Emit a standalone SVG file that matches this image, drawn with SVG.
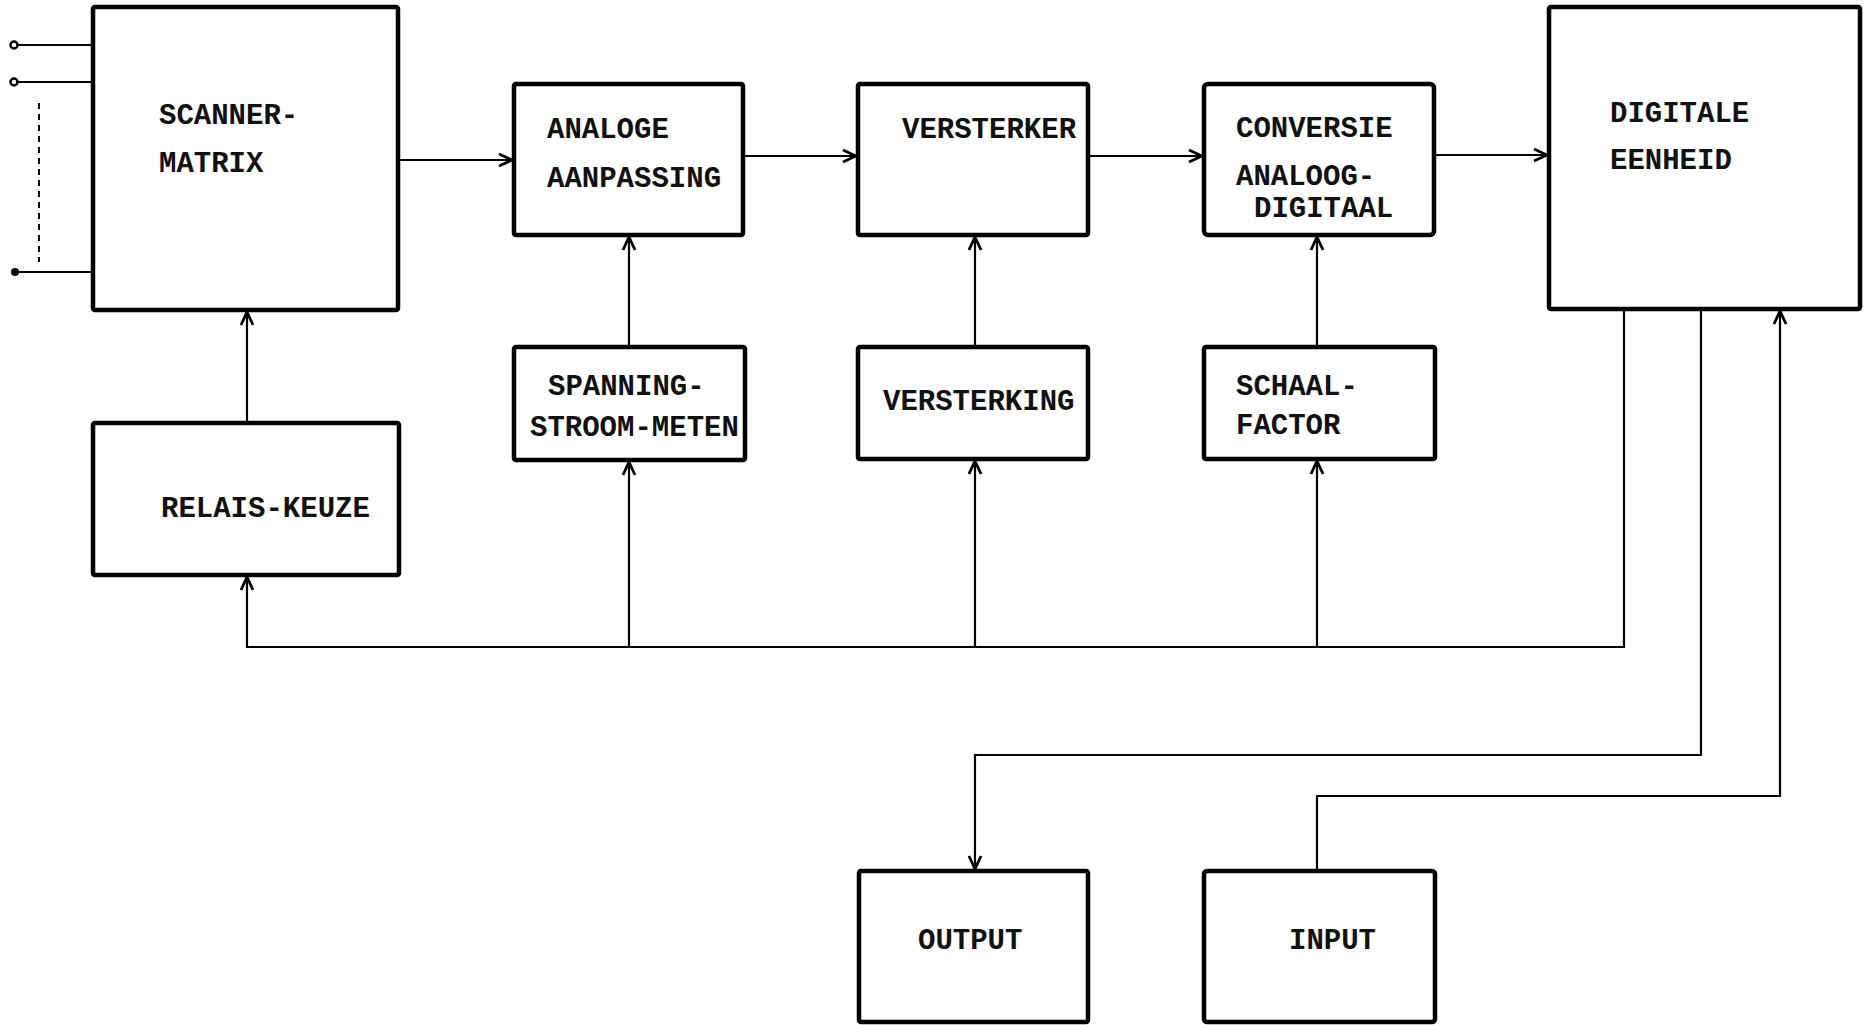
<svg xmlns="http://www.w3.org/2000/svg" width="1869" height="1025" viewBox="0 0 1869 1025">
<style>
.box{fill:#fff;stroke:#000;stroke-width:4.5}
.t{font-family:"Liberation Mono","Courier New",monospace;font-weight:bold;font-size:29px;fill:#111}
.c{fill:none;stroke:#000;stroke-width:2.2}
</style>
<defs>
<marker id="arr" viewBox="0 0 16 16" refX="15" refY="8" markerWidth="16" markerHeight="16" orient="auto" markerUnits="userSpaceOnUse">
<path d="M2,2 L15,8 L2,14" fill="none" stroke="#000" stroke-width="2.8"/>
</marker>
</defs>
<rect width="1869" height="1025" fill="#fff"/>
<g id="connectors">
<path class="c" d="M14,45 H93"/>
<path class="c" d="M14,82 H93"/>
<path class="c" d="M14,272 H93"/>
<circle cx="14" cy="45" r="3.5" fill="#fff" stroke="#000" stroke-width="2.5"/>
<circle cx="14" cy="82" r="3.5" fill="#fff" stroke="#000" stroke-width="2.5"/>
<circle cx="15" cy="272" r="4" fill="#000"/>
<path d="M39,103 V262" stroke="#000" stroke-width="2" stroke-dasharray="6,5" fill="none"/>
<path class="c" d="M398,160 H512" marker-end="url(#arr)"/>
<path class="c" d="M743,156 H856" marker-end="url(#arr)"/>
<path class="c" d="M1088,156 H1202" marker-end="url(#arr)"/>
<path class="c" d="M1434,155 H1547" marker-end="url(#arr)"/>
<path class="c" d="M629,347 V237" marker-end="url(#arr)"/>
<path class="c" d="M975,347 V237" marker-end="url(#arr)"/>
<path class="c" d="M1317,347 V237" marker-end="url(#arr)"/>
<path class="c" d="M247,423 V312" marker-end="url(#arr)"/>
<path class="c" d="M1624,309 V647 H247 V577" marker-end="url(#arr)"/>
<path class="c" d="M629,647 V462" marker-end="url(#arr)"/>
<path class="c" d="M975,647 V461" marker-end="url(#arr)"/>
<path class="c" d="M1317,647 V461" marker-end="url(#arr)"/>
<path class="c" d="M1701,309 V755 H975 V869" marker-end="url(#arr)"/>
<path class="c" d="M1317,871 V796 H1780 V311" marker-end="url(#arr)"/>
</g>
<g id="scanner-matrix">
<rect class="box" x="93" y="7" width="305" height="303" rx="2"/>
<text class="t" x="159" y="124">SCANNER-</text>
<text class="t" x="159" y="172">MATRIX</text>
</g>
<g id="analoge-aanpassing">
<rect class="box" x="514" y="84" width="229" height="151" rx="2"/>
<text class="t" x="547" y="138">ANALOGE</text>
<text class="t" x="547" y="187">AANPASSING</text>
</g>
<g id="versterker">
<rect class="box" x="858" y="84" width="230" height="151" rx="2"/>
<text class="t" x="902" y="138">VERSTERKER</text>
</g>
<g id="conversie">
<rect class="box" x="1204" y="84" width="230" height="151" rx="4"/>
<text class="t" x="1236" y="137">CONVERSIE</text>
<text class="t" x="1236" y="185">ANALOOG-</text>
<text class="t" x="1254" y="217">DIGITAAL</text>
</g>
<g id="digitale-eenheid">
<rect class="box" x="1549" y="7" width="311" height="302" rx="2"/>
<text class="t" x="1610" y="122">DIGITALE</text>
<text class="t" x="1610" y="169">EENHEID</text>
</g>
<g id="spanning-stroom-meten">
<rect class="box" x="514" y="347" width="231" height="113" rx="2"/>
<text class="t" x="548" y="395">SPANNING-</text>
<text class="t" x="530" y="436">STROOM-METEN</text>
</g>
<g id="versterking">
<rect class="box" x="858" y="347" width="230" height="112" rx="2"/>
<text class="t" x="883" y="410">VERSTERKING</text>
</g>
<g id="schaalfactor">
<rect class="box" x="1204" y="347" width="231" height="112" rx="2"/>
<text class="t" x="1236" y="395">SCHAAL-</text>
<text class="t" x="1236" y="434">FACTOR</text>
</g>
<g id="relais-keuze">
<rect class="box" x="93" y="423" width="306" height="152" rx="2"/>
<text class="t" x="161" y="517">RELAIS-KEUZE</text>
</g>
<g id="output">
<rect class="box" x="859" y="871" width="229" height="151" rx="2"/>
<text class="t" x="918" y="949">OUTPUT</text>
</g>
<g id="input">
<rect class="box" x="1204" y="871" width="231" height="151" rx="3"/>
<text class="t" x="1289" y="949">INPUT</text>
</g>
</svg>
